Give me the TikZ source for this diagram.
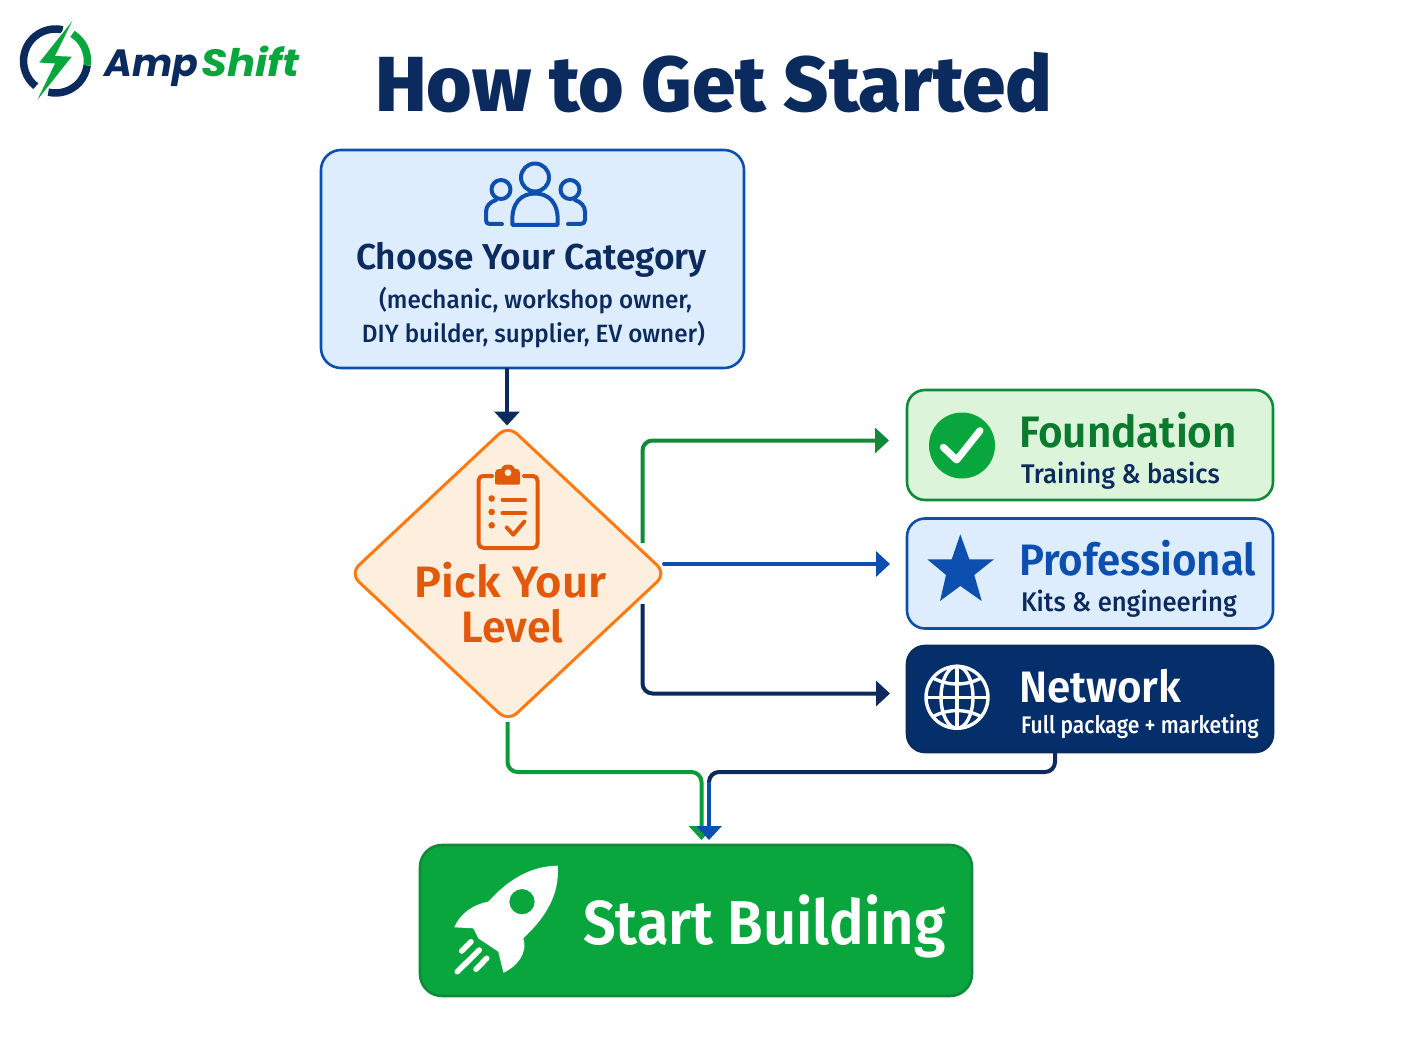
\documentclass[tikz,border=0pt]{standalone}
\usepackage{fontspec}
\usepackage{graphicx}
\setmainfont{Fira Sans}
\newfontfamily\medfont{Fira Sans Medium}
\newfontfamily\semifont{Fira Sans SemiBold}
\newfontfamily\xbfont{Fira Sans ExtraBold}
\newfontfamily\logofont{Poppins}
\usetikzlibrary{arrows.meta,shapes.geometric}
\definecolor{navy}{HTML}{0B2A5E}
\definecolor{netnavy}{HTML}{052F6B}
\definecolor{blueln}{HTML}{0C4FAE}
\definecolor{bluefill}{HTML}{DDEDFD}
\definecolor{greenln}{HTML}{0E8A38}
\definecolor{greendk}{HTML}{0B7A2E}
\definecolor{greenfill}{HTML}{DCF4D9}
\definecolor{greenbr}{HTML}{09A63D}
\definecolor{orangeln}{HTML}{FF7A10}
\definecolor{orangetx}{HTML}{E2590B}
\definecolor{orangefill}{HTML}{FDEEDD}
\tikzset{
  card/.style={draw,rounded corners=18,line width=2.6,minimum width=366,minimum height=110,inner sep=0,outer sep=0},
  txt/.style={inner sep=0,outer sep=0,anchor=base west},
  ctxt/.style={inner sep=0,outer sep=0,anchor=base},
  conn/.style={line width=4,rounded corners=10,-{Triangle[width=25,length=14]}},
  conn0/.style={line width=4,rounded corners=10,line cap=round},
  ico/.style={line width=4,line cap=round,line join=round},
}
\newcommand{\fs}[1]{\fontsize{#1}{#1}\selectfont}
\newcommand{\sx}[2]{\scalebox{#1}[1]{#2}}
\begin{document}
\begin{tikzpicture}[x=1pt,y=-1pt]
\useasboundingbox[fill=white] (0,0) rectangle (1408,1056);
% logo
\draw[navy,line width=7.5] (55.5,61) ++(-77:32) arc[start angle=-77,end angle=-232,radius=32];
\draw[navy,line width=7.5] (55.5,61) ++(103:32) arc[start angle=103,end angle=8,radius=32];
\draw[greenbr,line width=7.5] (55.5,61) ++(-58:32) arc[start angle=-58,end angle=8,radius=32];
\fill[greenbr,draw=white,line width=3,line join=round] (72.3,21)--(39.3,62.5)--(55,63.5)--(37.3,100)--(71.7,56.7)--(55,56)--cycle;
\fill[greenbr] (72.3,21)--(39.3,62.5)--(55,63.5)--(37.3,100)--(71.7,56.7)--(55,56)--cycle;
\node[txt,text=navy] (lgA) at (104,77) {\logofont\bfseries\itshape\fs{38}Amp};
\node[txt,text=greenbr] (lgB) at (201,77) {\sx{1.1}{\logofont\bfseries\itshape\fs{38}Shift}};
% title
\node[txt,text=navy] (title) at (375,112) {\xbfont\fs{78}How to Get Started};
% category
\node[card,draw=blueln,fill=bluefill,minimum width=423,minimum height=218,rounded corners=20] (cat) at (532.5,259) {};
\begin{scope}[ico,draw=blueln]
\draw (535,177.5) circle[radius=14];
\draw (512.5,225) .. controls (510.5,202) and (522,193.5) .. (535,193.5) .. controls (548,193.5) and (559.5,202) .. (557.5,225) -- cycle;
\draw (501,189.5) circle[radius=9.5];
\draw (502,224)--(490,224) .. controls (487,224) and (486,223) .. (486,220) -- (486,212) .. controls (486,206) and (490,202) .. (496,200);
\draw (570,189.5) circle[radius=9.5];
\draw (568,224)--(580,224) .. controls (583,224) and (585,223) .. (585,220) -- (585,212) .. controls (585,206) and (581,202) .. (575,200);
\end{scope}
\node[ctxt,text=navy] (catT) at (531.5,270) {\semifont\fs{36}\sx{0.98}{Choose Your Category}};
\node[ctxt,text=navy] (catS1) at (535.5,309) {\medfont\fs{25}\sx{0.97}{(mechanic, workshop owner,}};
\node[ctxt,text=navy] (catS2) at (533.5,343) {\medfont\fs{25}\sx{0.97}{DIY builder, supplier, EV owner)}};
% diamond
\node[diamond,draw=orangeln,fill=orangefill,line width=3,rounded corners=12,minimum width=316,minimum height=296,inner sep=0,outer sep=0] (lvl) at (508,573.5) {};
\begin{scope}[ico,draw=orangetx]
\draw (492,476) -- (484,476) .. controls (480,476) and (478.5,478) .. (478.5,481) -- (478.5,543) .. controls (478.5,546) and (481,548) .. (484,548) -- (533,548) .. controls (536,548) and (537.5,546) .. (537.5,543) -- (537.5,481) .. controls (537.5,478) and (536,476) .. (533,476) -- (524,476);
\draw (502.5,499.5)--(525,499.5);
\draw (502.5,513)--(525,513);
\draw (506.7,527.5)--(513.3,534.7)--(524.3,521.7);
\end{scope}
\fill[orangetx,even odd rule] (497,484.5) -- (519,484.5) .. controls (520,484.5) and (520,484) .. (520,483) -- (520,473) .. controls (520,470) and (519,469) .. (515,469) .. controls (513,465) and (511,464.5) .. (508,464.5) .. controls (505,464.5) and (503,465) .. (501,469) .. controls (497,469) and (495,470) .. (495,473) -- (495,483) .. controls (495,484) and (496,484.5) .. (497,484.5) -- cycle (508,472.7) circle[radius=3.5];
\fill[orangetx] (491.7,498.5) circle[radius=3.3] (491.7,512) circle[radius=3.3] (491.7,525.3) circle[radius=3.3];
\node[ctxt,text=orangetx] (lvl1) at (510.5,597) {\semifont\fs{44}\sx{1.03}{Pick Your}};
\node[ctxt,text=orangetx] (lvl2) at (512.5,642) {\semifont\fs{44}\sx{0.97}{Level}};
% foundation
\node[card,draw=greenln,fill=greenfill] (fnd) at (1090,445) {};
\fill[greenbr] (962,445.5) circle[radius=33];
\draw[white,line width=7,line cap=round,line join=round] (943.3,447.3)--(956.7,460)--(980,430.7);
\node[txt,text=greendk] (fndT) at (1019,447) {\semifont\fs{44}\sx{0.96}{Foundation}};
\node[txt,text=navy] (fndS) at (1021,483) {\medfont\fs{27}\sx{0.95}{Training \& basics}};
% professional
\node[card,draw=blueln,fill=bluefill] (pro) at (1090,573.5) {};
\fill[blueln] (960.3,534.3)--(969.3,559.3)--(994,559.3)--(974.3,575)--(981.7,601)--(960.3,586)--(940,601)--(946,575)--(927.3,559.3)--(951.7,559.3)--cycle;
\node[txt,text=blueln] (proT) at (1019,575) {\semifont\fs{44}\sx{0.955}{Professional}};
\node[txt,text=navy] (proS) at (1021,611) {\medfont\fs{27}\sx{0.95}{Kits \& engineering}};
% network
\node[card,draw=navy,fill=netnavy,minimum height=106] (net) at (1090,699) {};
\begin{scope}[white,line width=3.4]
\draw (957,697.3) circle[radius=31];
\draw (957,697.3) ellipse[x radius=16,y radius=31];
\draw (957,666.3)--(957,728.3);
\draw (926,697.3)--(988,697.3);
\draw (933,678) .. controls (948,686) and (966,686) .. (981,678);
\draw (933,716.6) .. controls (948,708.6) and (966,708.6) .. (981,716.6);
\end{scope}
\node[txt,text=white] (netT) at (1019,702) {\semifont\fs{44}\sx{0.955}{Network}};
\node[txt,text=white] (netS) at (1021,733) {\medfont\fs{24}\sx{0.88}{Full package + marketing}};
% start
\node[card,draw=greenln,fill=greenbr,minimum width=552,minimum height=151,rounded corners=22] (go) at (696,920.5) {};
\fill[white,even odd rule] (557.7,865.7) .. controls (530,866) and (508,880) .. (488.3,901.7) .. controls (475,904) and (461,912) .. (454.3,927.3) -- (473.3,928.3) -- (478.3,938.3) -- (498.3,951.7) -- (503.5,972.7) .. controls (518,966) and (528,952) .. (523.3,938.3) .. controls (545,918) and (560,895) .. (557.7,865.7) -- cycle (522,901.7) circle[radius=12.7];
\begin{scope}[white,line width=5.5,line cap=round]
\draw (461.7,951)--(471,941.7);
\draw (457.3,971.7)--(479.3,950);
\draw (476,969.3)--(486.7,958.3);
\end{scope}
\node[txt,text=white] (goT) at (583,944) {\semifont\fs{62}\sx{0.933}{Start Building}};
% connectors
\coordinate (c1) at (507,368);
\coordinate (c2) at (507,425.5);
\draw[conn,navy] (c1)--(c2);
\coordinate (g1) at (642.5,543); \coordinate (g2) at (889,440.5);
\draw[conn,greenln] (g1) |- (g2);
\coordinate (b1) at (664,564); \coordinate (b2) at (890,564);
\draw[conn,blueln,line cap=round] (b1)--(b2);
\coordinate (n1) at (642.5,604); \coordinate (n2) at (890,693.5);
\draw[conn,navy] (n1) |- (n2);
\coordinate (s1) at (507.5,722); \coordinate (s2) at (507.5,772); \coordinate (s3) at (701.5,772); \coordinate (s4) at (701.5,840);
\draw[conn,greenbr!80!greendk] (s1)--(s2)--(s3)--(s4);
\coordinate (t1) at (1055,753); \coordinate (t2) at (1055,772); \coordinate (t3) at (709,772); \coordinate (t4) at (709,840); \coordinate (t5) at (709,782);
\draw[conn0,navy] (t1)--(t2)--(t3)--(t5);
\draw[line width=4,blueln,-{Triangle[width=25,length=14]}] (t5)--(t4);
\end{tikzpicture}
\end{document}
